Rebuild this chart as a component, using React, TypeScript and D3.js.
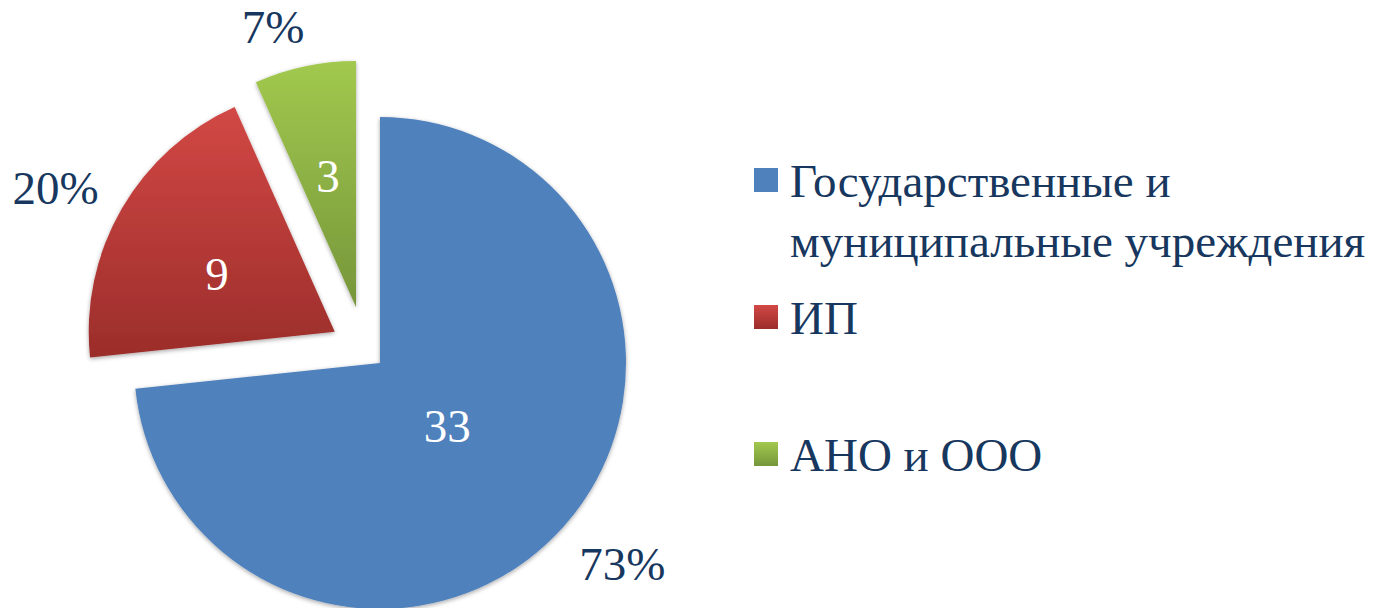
import React from "react";
import * as d3 from "d3";

const categories = ["Государственные и муниципальные учреждения", "ИП", "АНО и ООО"];
const legendLines = [["Государственные и", "муниципальные учреждения"], ["ИП"], ["АНО и ООО"]];
const values = [33, 9, 3];

const W = 1384;
const H = 608;
const CX = 380;
const CY = 363;
const R = 246;
const FONT = "Liberation Serif, Times New Roman, DejaVu Serif, serif";
const TEXT_COLOR = "#17375E";

// exploded-slice translation (distance, direction in degrees clockwise from 12 o'clock)
const explode = [
  { dist: 0, angle: 0 },
  { dist: 55, angle: 304.6 },
  { dist: 61, angle: 336.8 },
];
// outside percentage label placement (radius from slice vertex, angle shift from mid-angle)
const outerLabel = [
  { r: 315, dA: -2.3 },
  { r: 314, dA: -2.7 },
  { r: 292, dA: -4.5 },
];
// inside value label placement
const innerLabel = [
  { r: 92, dA: 1 },
  { r: 131, dA: -4 },
  { r: 134, dA: 0 },
];

const fills = [
  { id: "g0", top: "#4F81BD", bottom: "#4F81BD" },
  { id: "g1", top: "#D24845", bottom: "#9B2D2A" },
  { id: "g2", top: "#A2C94E", bottom: "#76963A" },
];

const polar = (deg: number, r: number): [number, number] => {
  const a = (deg * Math.PI) / 180;
  return [Math.sin(a) * r, -Math.cos(a) * r];
};

export default function App() {
  const total = d3.sum(values);
  const pie = d3.pie<number>().sort(null).startAngle(0).endAngle(2 * Math.PI)(values);
  const arc = d3.arc<d3.PieArcDatum<number>>().innerRadius(0).outerRadius(R);

  const legendX = 754;
  const legendSq = 24;
  const legendRowY = [180, 317, 454];
  const textStyle = { fontFamily: FONT };

  return (
    <svg
      width={W}
      height={H}
      viewBox={`0 0 ${W} ${H}`}
      style={{ position: "absolute", left: 0, top: 0, background: "#fff" }}
    >
      <defs>
        {fills.map((f) => (
          <linearGradient key={f.id} id={f.id} x1="0" y1="0" x2="0" y2="1">
            <stop offset="0%" stopColor={f.top} />
            <stop offset="100%" stopColor={f.bottom} />
          </linearGradient>
        ))}
        <filter id="shadow" x="-10%" y="-10%" width="120%" height="120%">
          <feDropShadow dx="0" dy="1.5" stdDeviation="2" floodColor="#000" floodOpacity="0.35" />
        </filter>
      </defs>

      {pie.map((d, i) => {
        const mid = ((d.startAngle + d.endAngle) / 2) * (180 / Math.PI);
        const [ex, ey] = polar(explode[i].angle, explode[i].dist);
        const vx = CX + ex;
        const vy = CY + ey;
        const [ix, iy] = polar(mid + innerLabel[i].dA, innerLabel[i].r);
        const [ox, oy] = polar(mid + outerLabel[i].dA, outerLabel[i].r);
        const pct = Math.round((values[i] / total) * 100) + "%";
        return (
          <g key={categories[i]}>
            <path
              d={arc(d) || ""}
              transform={`translate(${vx},${vy})`}
              fill={`url(#${fills[i].id})`}
              filter="url(#shadow)"
            />
            <text
              x={vx + ix}
              y={vy + iy}
              dy="0.34em"
              textAnchor="middle"
              style={textStyle}
              fontSize={47}
              fill="#fff"
            >
              {values[i]}
            </text>
            <text
              x={vx + ox}
              y={vy + oy}
              dy="0.34em"
              textAnchor="middle"
              style={textStyle}
              fontSize={47}
              fill={TEXT_COLOR}
            >
              {pct}
            </text>
          </g>
        );
      })}

      {categories.map((c, i) => (
        <g key={"lg" + c}>
          <rect
            x={legendX}
            y={legendRowY[i] - legendSq / 2}
            width={legendSq}
            height={legendSq}
            fill={`url(#${fills[i].id})`}
          />
          <text x={legendX + 36} y={legendRowY[i] + 17} style={textStyle} fontSize={47} fill={TEXT_COLOR}>
            {legendLines[i].map((line, j) => (
              <tspan key={line} x={legendX + 36} dy={j === 0 ? 0 : 60}>
                {line}
              </tspan>
            ))}
          </text>
        </g>
      ))}
    </svg>
  );
}
